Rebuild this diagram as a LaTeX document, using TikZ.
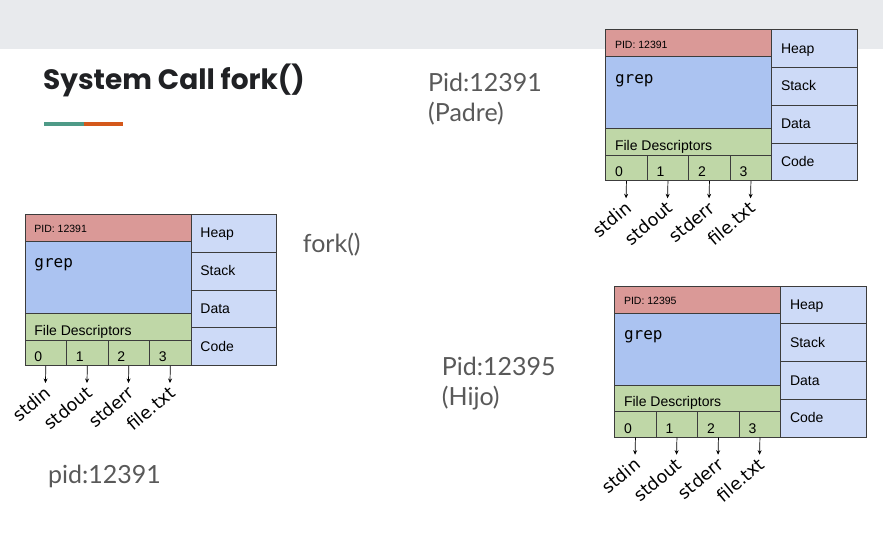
\documentclass[tikz,border=0pt]{standalone}
\usepackage{fontspec}
\setmainfont{Lato}
\newfontfamily\titlef{Poppins}
\newfontfamily\arialf{Liberation Sans}
\newfontfamily\monof{DejaVu Sans Mono}
\newfontfamily\lblf{DejaVu Sans}
\usetikzlibrary{arrows.meta}
\definecolor{band}{HTML}{E8EAED}
\definecolor{pidc}{HTML}{DA9997}
\definecolor{grepc}{HTML}{ABC3F1}
\definecolor{segc}{HTML}{CDDAF7}
\definecolor{fdc}{HTML}{BFD7A7}
\definecolor{linec}{HTML}{3C3C3C}
\definecolor{txtg}{HTML}{595959}
\definecolor{titlec}{HTML}{202124}
\definecolor{tealc}{HTML}{4E9A87}
\definecolor{orngc}{HTML}{D4581B}
\tikzset{
  region/.style={draw=linec, line width=0.8pt, inner sep=0pt, anchor=north west},
  boxtxt/.style={inner sep=0pt, anchor=base west, font=\arialf\fontsize{14}{16}\selectfont},
  pidtxt/.style={inner sep=0pt, anchor=base west, font=\arialf\fontsize{10.5}{12}\selectfont},
  greptxt/.style={inner sep=0pt, anchor=base west, font=\monof\fontsize{16}{18}\selectfont},
  fdlbl/.style={inner sep=0pt, anchor=base east, rotate=40, font=\lblf\fontsize{17.5}{19}\selectfont},
  fdarrow/.style={line width=0.7pt, -{Stealth[length=4.5pt,width=4pt]}},
  bigtxt/.style={inner sep=0pt, anchor=base west, text=txtg, align=left, font=\fontsize{25}{30}\selectfont},
  pics/procbox/.style={code={
    \node[region, fill=pidc, minimum width=166pt, minimum height=27pt] (-pid) at (0,0) {};
    \node[region, fill=grepc, minimum width=166pt, minimum height=72pt] (-prog) at (0,27) {};
    \node[region, fill=fdc, minimum width=166pt, minimum height=26.5pt] (-fd) at (0,99) {};
    \foreach \i in {0,1,2,3} {
      \node[region, fill=fdc, minimum width=41.5pt, minimum height=25.5pt] (-c\i) at (41.5*\i,125.5) {};
    }
    \node[region, fill=segc, minimum width=85.5pt, minimum height=37.75pt] (-heap) at (166,0) {};
    \node[region, fill=segc, minimum width=85.5pt, minimum height=37.75pt] (-stack) at (166,37.75) {};
    \node[region, fill=segc, minimum width=85.5pt, minimum height=37.75pt] (-data) at (166,75.5) {};
    \node[region, fill=segc, minimum width=85.5pt, minimum height=37.75pt] (-code) at (166,113.25) {};
    \node[pidtxt] (-pidt) at (9.5,19) {PID: #1};
    \node[greptxt] (-grept) at (9.5,54) {grep};
    \node[boxtxt] (-fdt) at (9.5,121) {File Descriptors};
    \foreach \i in {0,1,2,3} {
      \node[boxtxt] (-n\i) at (41.5*\i+9.5,147.7) {\i};
    }
    \node[boxtxt] (-heapt) at (175.5,23.9) {Heap};
    \node[boxtxt] (-stackt) at (175.5,61.6) {Stack};
    \node[boxtxt] (-datat) at (175.5,99.4) {Data};
    \node[boxtxt] (-codet) at (175.5,137.1) {Code};
    \foreach \i/\t in {0/stdin,1/stdout,2/stderr,3/file.txt} {
      \coordinate (-t\i) at (41.5*\i+20.75,169);
      \draw[fdarrow] (-c\i.south) -- (-t\i);
      \node[fdlbl] (-l\i) at (41.5*\i+27.5,181) {\t};
    }
  }}
}
\begin{document}
\begin{tikzpicture}[x=1pt,y=-1pt]
  \useasboundingbox (0,0) rectangle (883,537);
  \fill[band] (0,0) rectangle (883,49);
  \node[inner sep=0pt, anchor=base west, text=titlec, font=\titlef\bfseries\fontsize{28}{34}\selectfont] (title) at (43,90) {System Call fork()};
  \fill[tealc] (44,122) rectangle (84,126.5);
  \fill[orngc] (84,122) rectangle (123,126.5);
  \pic (L) at (24.7,214) {procbox=12391};
  \pic (P) at (605.3,29.3) {procbox=12391};
  \pic (C) at (614.3,285.7) {procbox=12395};
  \node[bigtxt] (padre) at (428,121.7) {Pid:12391\\(Padre)};
  \node[bigtxt] (hijo) at (441.7,405) {Pid:12395\\(Hijo)};
  \node[bigtxt] (fork) at (302.7,253) {fork()};
  \node[bigtxt] (pidl) at (48,483) {pid:12391};
\end{tikzpicture}
\end{document}
